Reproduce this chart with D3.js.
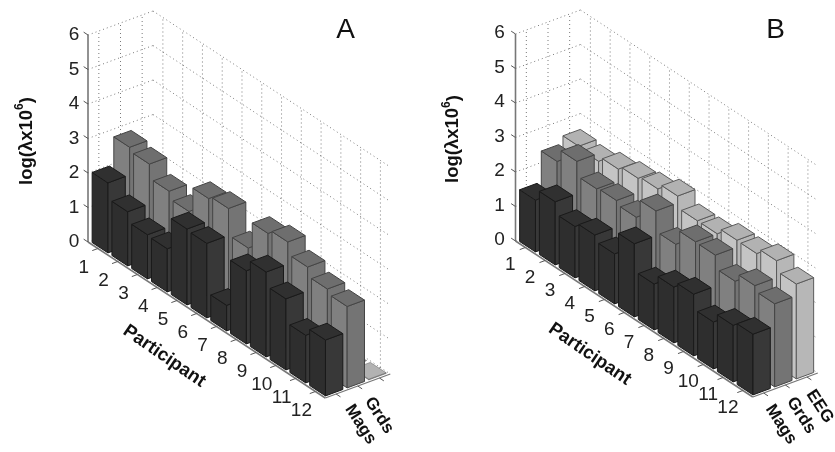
<!DOCTYPE html>
<html><head><meta charset="utf-8">
<script src="https://cdnjs.cloudflare.com/ajax/libs/d3/7.8.5/d3.min.js"></script>
<style>html,body{margin:0;padding:0;background:#fff}svg{display:block;font-family:"Liberation Sans",Arial,sans-serif;filter:blur(.4px)}</style>
</head><body><svg id="c" width="835" height="452"></svg>
<script>
const participants=[1,2,3,4,5,6,7,8,9,10,11,12];
const zTicks=[0,1,2,3,4,5,6];
const sensorsA=["Mags","Grds"];
const sensorsB=["Mags","Grds","EEG"];
const magsA=[2.03,1.57,1.28,1.25,2.20,2.16,0.74,2.12,2.46,2.06,1.38,1.62];
const grdsA=[2.83,2.72,2.31,2.10,2.85,2.94,2.17,2.97,3.10,2.75,2.49,2.36];
const thirdA=[0,0,0,0,0,0,0,0,0,0,0,0.02];
const magsB=[1.50,1.83,1.49,1.62,1.45,2.12,1.33,1.62,1.79,1.36,1.64,1.76];
const grdsB=[2.39,2.77,2.35,2.39,2.28,2.84,2.25,2.70,2.69,2.31,2.56,2.41];
const eegB=[2.60,2.54,2.69,2.80,2.87,3.04,2.70,2.70,2.89,2.88,3.05,2.75];

const seriesStyle=[
 {top:"#303030",left:"#2e2e2e",right:"#383838",edge:"#1a1a1a"},
 {top:"#6e6e6e",left:"#808080",right:"#747474",edge:"#444"},
 {top:"#b2b2b2",left:"#c4c4c4",right:"#b7b7b7",edge:"#5a5a5a"}
];
const svg=d3.select("#c");
// 3D axes expressed as scales
const pxX=d3.scaleLinear().domain([0.5,12.5]).range([0,237.3]);
const pxY=d3.scaleLinear().domain([0.5,12.5]).range([0,156]);
const sxX=d3.scaleLinear().domain([0.5,3.5]).range([0,65]);
const sxY=d3.scaleLinear().domain([0.5,3.5]).range([0,-24]);
const zY=d3.scaleLinear().domain([0,6]).range([0,-207]);
const proj=(p,s,z)=>[pxX(p)+sxX(s),pxY(p)+sxY(s)+zY(z)];
const pts=a=>a.map(d=>d.join(",")).join(" ");

function panel(cfg){
 const g=svg.append("g").attr("transform",`translate(${cfg.ox},${cfg.oy})`);
 const dot=(a,b)=>g.append("line").attr("x1",a[0]).attr("y1",a[1]).attr("x2",b[0]).attr("y2",b[1])
   .attr("stroke","#7a7a7a").attr("stroke-width",1).attr("stroke-dasharray","1 3");
 zTicks.forEach(z=>{ dot(proj(.5,.5,z),proj(.5,3.5,z)); dot(proj(.5,3.5,z),proj(12.5,3.5,z)); });
 [1,2,3].forEach(s=>{ dot(proj(.5,s,0),proj(.5,s,6)); dot(proj(.5,s,0),proj(12.5,s,0)); });
 participants.forEach(p=>{ dot(proj(p,3.5,0),proj(p,3.5,6)); dot(proj(p,.5,0),proj(p,3.5,0)); });
 // axes
 const solid=(a,b,w,c)=>g.append("line").attr("x1",a[0]).attr("y1",a[1]).attr("x2",b[0]).attr("y2",b[1])
   .attr("stroke",c||"#777").attr("stroke-width",w||1.3);
 solid(proj(.5,.5,0),proj(.5,.5,6),1.6);
 solid(proj(.5,.5,0),proj(12.5,.5,0),1.6);
 solid(proj(12.5,.5,0),proj(12.5,3.5,0),1.3);
 zTicks.forEach(z=>{
   solid(proj(.5,.5,z),proj(.28,.5,z),1,"#555");
   g.append("text").attr("x",proj(.5,.5,z)[0]-cfg.zLabelDx).attr("y",proj(.5,.5,z)[1]-cfg.zLabelDy)
    .attr("text-anchor","middle").attr("dominant-baseline","central").attr("font-size",19).attr("fill","#222").text(z);
 });
 participants.forEach(p=>{
   solid(proj(p,.5,0),proj(p,.24,0),1,"#555");
   const a=proj(p,.5,0);
   g.append("text").attr("x",a[0]+cfg.pLabel[0]).attr("y",a[1]+cfg.pLabel[1])
    .attr("text-anchor","middle").attr("dominant-baseline","central").attr("font-size",19).attr("fill","#222").text(p);
 });
 [1,2,3].forEach(s=>solid(proj(12.5,s,0),proj(12.72,s,0),1,"#555"));
 cfg.sensors.forEach((name,i)=>{
   const a=proj(12.5,i+1,0), o=cfg.sLabel[i];
   g.append("text").attr("transform",`translate(${a[0]+o[0]},${a[1]+o[1]}) rotate(57)`)
    .attr("text-anchor","middle").attr("dominant-baseline","central").attr("font-size",17).attr("font-weight","bold").attr("fill","#111").text(name);
 });
 g.append("text").attr("transform",`translate(${cfg.partLabel[0]},${cfg.partLabel[1]}) rotate(34.5)`)
  .attr("text-anchor","middle").attr("dominant-baseline","central").attr("font-size",18.5).attr("font-weight","bold").attr("fill","#111").text("Participant");
 g.append("text").attr("transform",`translate(${cfg.yLabel[0]},${cfg.yLabel[1]}) rotate(-90)`)
  .attr("text-anchor","middle").attr("dominant-baseline","central").attr("font-size",18.5).attr("font-weight","bold").attr("fill","#111")
  .html('log(λx10<tspan font-size="12" dy="-6">6</tspan><tspan dy="6">)</tspan>');
 g.append("text").attr("x",cfg.letter[0]).attr("y",cfg.letter[1]).attr("text-anchor","middle").attr("font-size",28).attr("fill","#111").text(cfg.name);
 // bars, far row first, low participant first
 const w=.4;
 d3.range(cfg.series.length-1,-1,-1).forEach(si=>{
   const st=seriesStyle[si], s=si+1;
   cfg.series[si].forEach((v,i)=>{
     const p=participants[i];
     const L0=proj(p-w,s-w,0),F0=proj(p+w,s-w,0),R0=proj(p+w,s+w,0);
     const L1=proj(p-w,s-w,v),F1=proj(p+w,s-w,v),R1=proj(p+w,s+w,v),B1=proj(p-w,s+w,v);
     const b=g.append("g").attr("stroke",st.edge).attr("stroke-width",v<.1?.5:1).attr("stroke-linejoin","round");
     b.append("polygon").attr("points",pts([L0,F0,F1,L1])).attr("fill",st.left);
     b.append("polygon").attr("points",pts([F0,R0,R1,F1])).attr("fill",st.right);
     b.append("polygon").attr("points",pts([L1,F1,R1,B1])).attr("fill",st.top);
   });
 });
}
panel({name:"A",ox:88,oy:242,series:[magsA,grdsA,thirdA],sensors:sensorsA,
  zLabelDx:14,zLabelDy:1.5,pLabel:[-14,18],sLabel:[[25,30],[22,29]],partLabel:[77,113],yLabel:[-63,-101],letter:[257.5,-204]});
panel({name:"B",ox:515.5,oy:241,series:[magsB,grdsB,eegB],sensors:sensorsB,
  zLabelDx:16,zLabelDy:2.5,pLabel:[-15,16],sLabel:[[18,31],[16.5,30],[13.5,29]],partLabel:[75,112],yLabel:[-64,-102],letter:[260,-203]});
</script></body></html>
